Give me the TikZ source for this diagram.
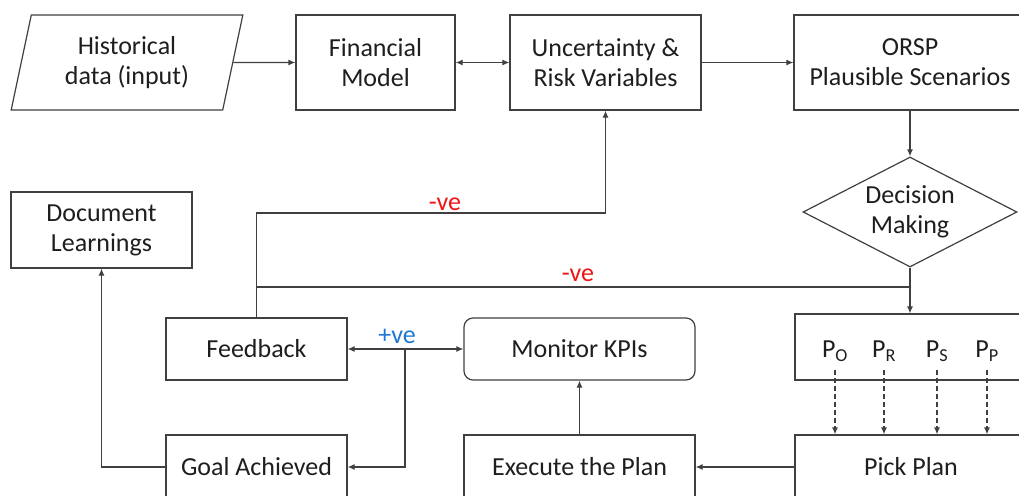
\documentclass[tikz,border=0pt]{standalone}
\usepackage{fontspec}
\setmainfont{Carlito}
\usetikzlibrary{shapes.geometric,arrows.meta,calc}
\definecolor{ln}{RGB}{64,64,64}
\definecolor{tx}{RGB}{30,30,30}
\definecolor{neg}{RGB}{240,20,20}
\definecolor{pos}{RGB}{30,120,210}
\begin{document}
\begin{tikzpicture}[x=1pt,y=-1pt,
  every node/.style={font=\fontsize{26}{30}\selectfont, text=tx},
  box/.style={draw=ln, line width=1.2pt, rectangle, inner sep=0pt, align=center},
  wire/.style={draw=ln, line width=1.2pt},
  conn/.style={wire, -{Latex[length=7pt,width=6pt]}},
  dconn/.style={conn, dashed, dash pattern=on 5pt off 3pt},
  bconn/.style={wire, {Latex[length=7pt,width=6pt]}-{Latex[length=7pt,width=6pt]}},
  lab/.style={inner sep=0pt}
]
\useasboundingbox (0,0) rectangle (1019,495);
\clip (0,0) rectangle (1019,495);
\fill[white] (0,0) rectangle (1019,495);

% nodes
\node[box, trapezium, trapezium left angle=76, trapezium right angle=104, trapezium stretches=true, minimum width=232pt, minimum height=95pt] (hist) at (127,62.5) {Historical\\data (input)};
\node[box, minimum width=159pt, minimum height=95pt] (fin) at (375.5,62.5) {Financial\\Model};
\node[box, minimum width=191pt, minimum height=95pt] (unc) at (605.5,62.5) {Uncertainty \&\\Risk Variables};
\node[box, minimum width=232pt, minimum height=95pt] (orsp) at (910,62.5) {ORSP\\Plausible Scenarios};
\node[diamond, draw=ln, line width=1.2pt, minimum width=214pt, minimum height=110pt, inner sep=0pt] (dec) at (910,212) {};
\node[lab, align=center] (dect) at (dec.center) {Decision\\Making};
\node[box, minimum width=181pt, minimum height=76pt] (doc) at (101.5,230) {Document\\Learnings};
\node[box, minimum width=181pt, minimum height=62pt] (fb) at (256.5,349) {Feedback};
\node[box, minimum width=181pt, minimum height=64pt] (goal) at (256.5,467) {Goal Achieved};
\node[box, rounded corners=9pt, minimum width=231pt, minimum height=62pt] (mon) at (579.5,349) {Monitor KPIs};
\node[box, minimum width=231pt, minimum height=64pt] (exe) at (579.5,467) {Execute the Plan};
\node[box, minimum width=232pt, minimum height=66pt] (pbox) at (911,347) {};
\node[box, minimum width=232pt, minimum height=64pt] (pick) at (911,467) {Pick Plan};

\node[lab] (po) at (835,351) {P\textsubscript{O}};
\node[lab] (pr) at (884,351) {P\textsubscript{R}};
\node[lab] (ps) at (937,351) {P\textsubscript{S}};
\node[lab] (pp) at (987,351) {P\textsubscript{P}};

% labels
\node[lab, text=neg] (neg1) at (445,204) {-ve};
\node[lab, text=neg] (neg2) at (578,275) {-ve};
\node[lab, text=pos] (pos1) at (397,336) {+ve};

% coordinates
\coordinate (fbtop) at (256.5,213);
\coordinate (fbmid) at (256.5,287);
\coordinate (br) at (405,349);

% connectors
\draw[conn] (hist.east) -- (fin.west);
\draw[bconn] (fin.east) -- (unc.west);
\draw[conn] (unc.east) -- (orsp.west);
\draw[conn] (orsp.south) -- (dec.north);
\draw[conn] (dec.south) -- (dec.south |- pbox.north);
\draw[conn] (fb.north) -- (fbtop) -| (unc.south);
\draw[wire] (fbmid) -- (fbmid -| dec.south);
\draw[bconn] (fb.east) -- (mon.west);
\draw[conn] (br) |- (goal.east);
\draw[conn] (goal.west) -| (doc.south);
\draw[conn] (exe.north) -- (mon.south);
\draw[conn] (pick.west) -- (exe.east);
\draw[dconn] (po.center) ++(0,19) -- (po.center |- pick.north);
\draw[dconn] (pr.center) ++(0,19) -- (pr.center |- pick.north);
\draw[dconn] (ps.center) ++(0,19) -- (ps.center |- pick.north);
\draw[dconn] (pp.center) ++(0,19) -- (pp.center |- pick.north);
\end{tikzpicture}
\end{document}
